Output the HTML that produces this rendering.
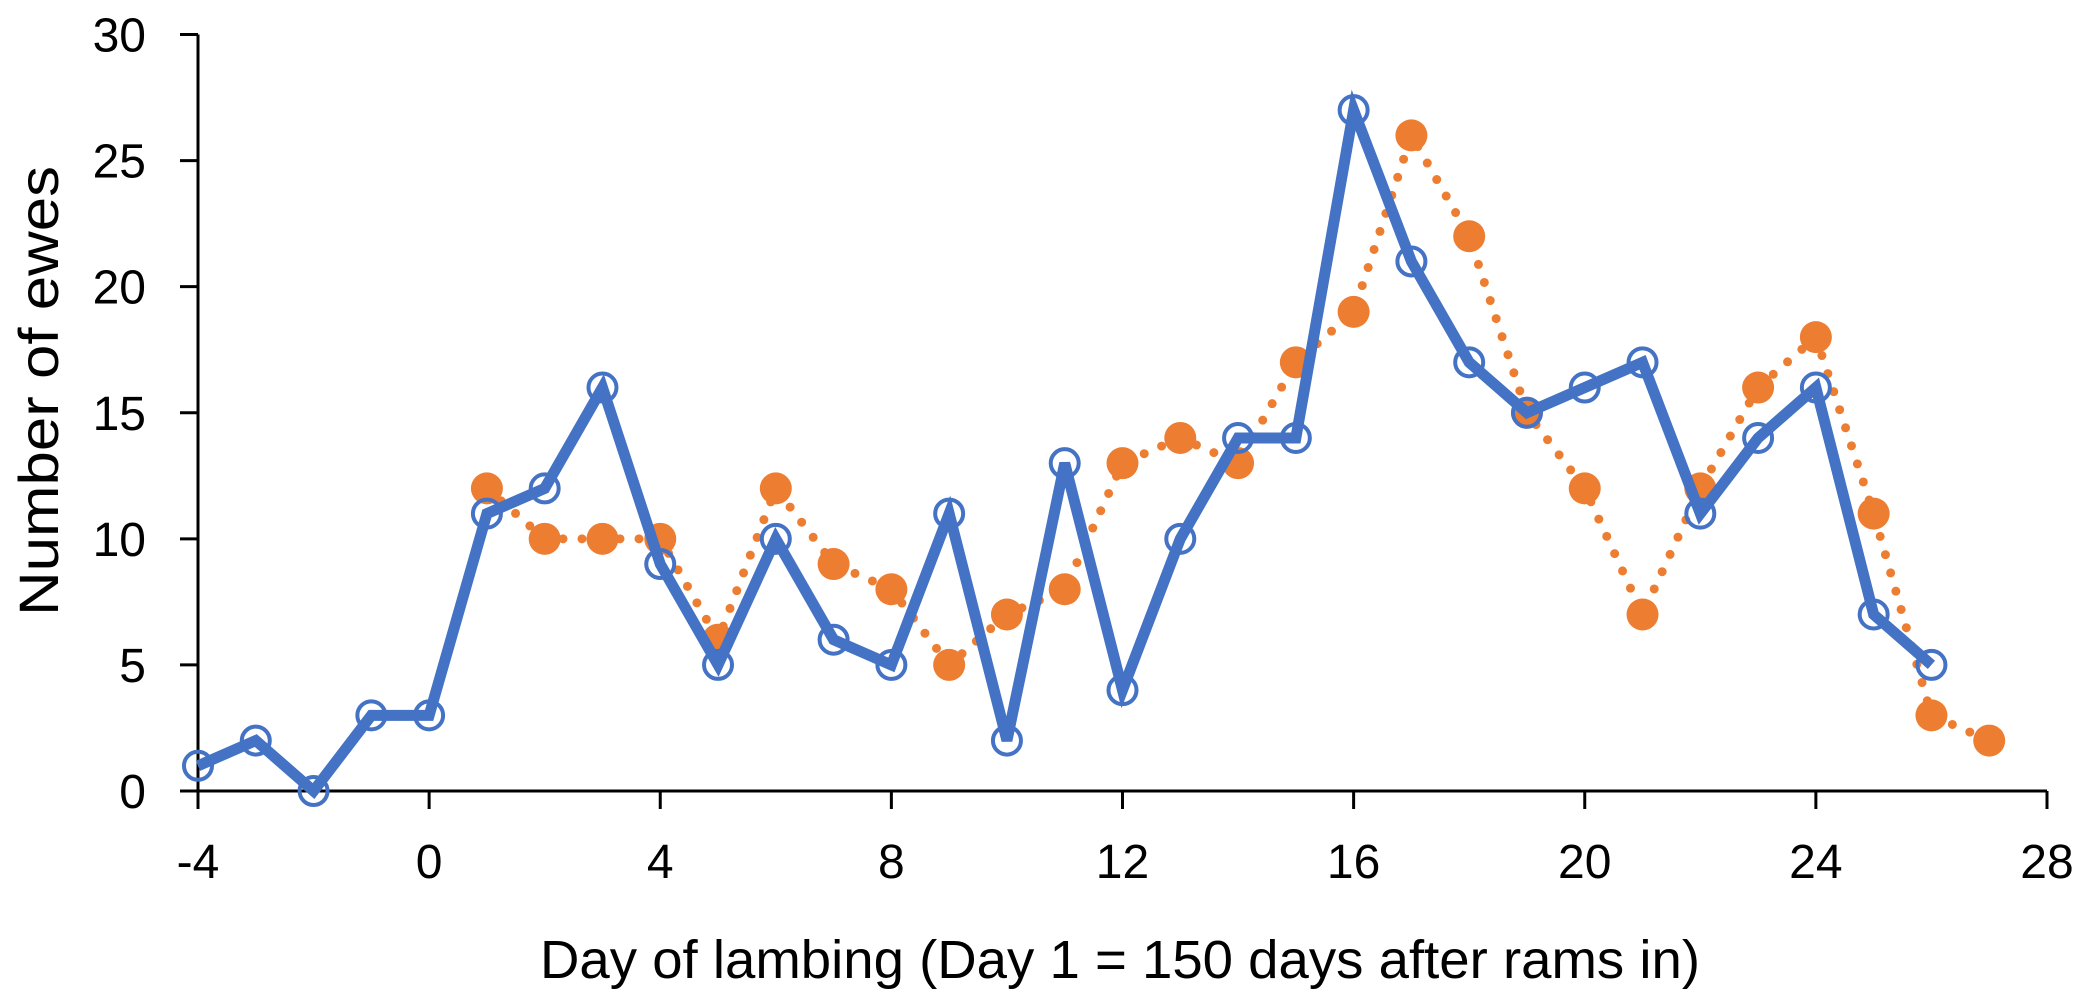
<!DOCTYPE html>
<html><head><meta charset="utf-8"><style>
html,body{margin:0;padding:0;background:#fff;}
svg{display:block;font-family:"Liberation Sans",sans-serif;}
</style></head><body>
<svg id="chart" width="2094" height="1000" viewBox="0 0 2094 1000" xmlns="http://www.w3.org/2000/svg">
<g id="axes"></g>
<g id="series"></g>
<text x="1120" y="978" font-size="54" text-anchor="middle" fill="#000" textLength="1160" lengthAdjust="spacingAndGlyphs">Day of lambing (Day 1 = 150 days after rams in)</text>
<text transform="translate(58,391) rotate(-90)" font-size="56" text-anchor="middle" fill="#000" textLength="450" lengthAdjust="spacingAndGlyphs">Number of ewes</text>
</svg>
<script>
const blueDays = [-4,-3,-2,-1,0,1,2,3,4,5,6,7,8,9,10,11,12,13,14,15,16,17,18,19,20,21,22,23,24,25,26];
const blueValues = [1,2,0,3,3,11,12,16,9,5,10,6,5,11,2,13,4,10,14,14,27,21,17,15,16,17,11,14,16,7,5];
const orangeDays = [1,2,3,4,5,6,7,8,9,10,11,12,13,14,15,16,17,18,19,20,21,22,23,24,25,26,27];
const orangeValues = [12,10,10,10,6,12,9,8,5,7,8,13,14,13,17,19,26,22,15,12,7,12,16,18,11,3,2];
const xTicks = [-4,0,4,8,12,16,20,24,28];
const yTicks = [0,5,10,15,20,25,30];

const NS = "http://www.w3.org/2000/svg";
const X0 = 198, X1 = 2047, Y0 = 791, Y1 = 34.5;
function xs(v){ return X0 + (v - (-4)) / 32 * (X1 - X0); }
function ys(v){ return Y0 - v / 30 * (Y0 - Y1); }
function mk(tag, attrs, parent){
  const e = document.createElementNS(NS, tag);
  for (const k in attrs) e.setAttribute(k, attrs[k]);
  parent.appendChild(e);
  return e;
}
const axes = document.getElementById('axes');
const series = document.getElementById('series');

let l = mk('line', {x1:X0, y1:Y1, x2:X0, y2:Y0, stroke:'#000', 'stroke-width':3}, axes);


l = mk('line', {x1:X0-18, y1:Y0, x2:X1, y2:Y0, stroke:'#000', 'stroke-width':3}, axes);



yTicks.forEach(v => {
  const t = mk('line', {x1:X0-18, y1:ys(v), x2:X0, y2:ys(v), stroke:'#000', 'stroke-width':3}, axes);
  
  
  const tx = mk('text', {x:146, y:ys(v)+17, 'font-size':48, 'text-anchor':'end', fill:'#000'}, axes);
  tx.textContent = v;
  
  
});
xTicks.forEach(v => {
  const t = mk('line', {x1:xs(v), y1:Y0, x2:xs(v), y2:Y0+18, stroke:'#000', 'stroke-width':3}, axes);
  
  
  const tx = mk('text', {x:xs(v), y:878, 'font-size':48, 'text-anchor':'middle', fill:'#000'}, axes);
  tx.textContent = v;
  
  
});

// orange series (dotted)
const op = orangeDays.map((d,i) => xs(d)+','+ys(orangeValues[i])).join(' ');
const ol = mk('polyline', {points:op, fill:'none', stroke:'#ED7D31', 'stroke-width':9, 'stroke-linecap':'round', 'stroke-dasharray':'0 19'}, series);


orangeDays.forEach((d,i) => {
  const c = mk('circle', {cx:xs(d), cy:ys(orangeValues[i]), r:16, fill:'#ED7D31'}, series);
  
  
});

// blue series
const bp = blueDays.map((d,i) => xs(d)+','+ys(blueValues[i])).join(' ');
const bl = mk('polyline', {points:bp, fill:'none', stroke:'#4472C4', 'stroke-width':11, 'stroke-linejoin':'miter'}, series);


blueDays.forEach((d,i) => {
  const c = mk('circle', {cx:xs(d), cy:ys(blueValues[i]), r:14, fill:'none', stroke:'#4472C4', 'stroke-width':4}, series);
  
  
});
</script>
</body></html>
